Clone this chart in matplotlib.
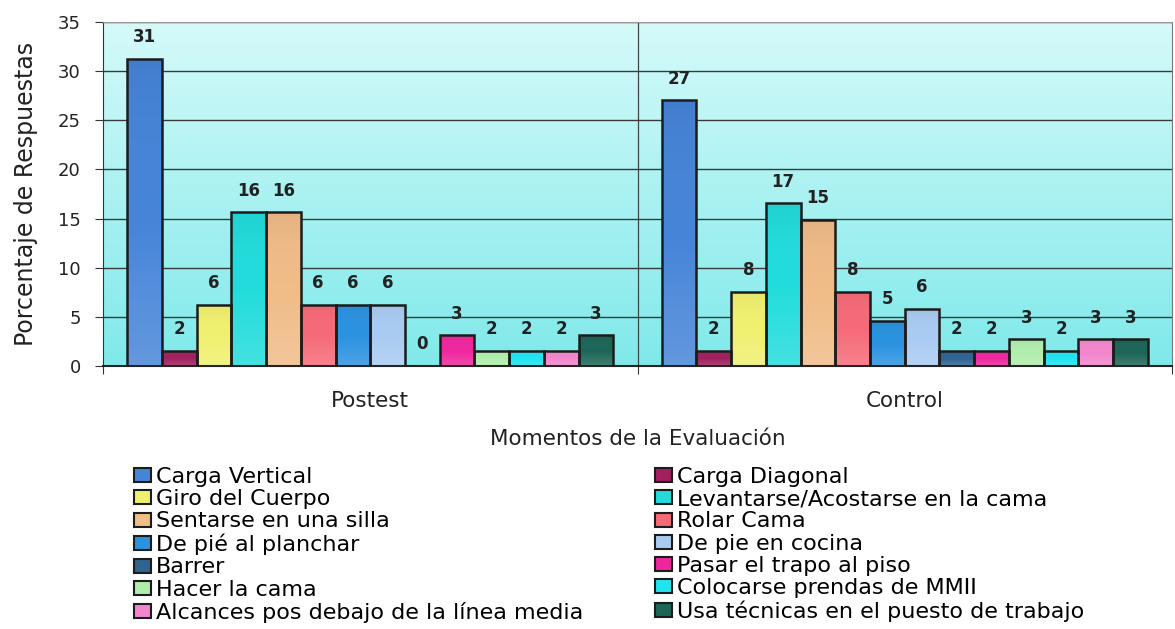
import matplotlib
matplotlib.use("Agg")
import matplotlib.pyplot as plt
import numpy as np
from matplotlib.colors import LinearSegmentedColormap
from matplotlib.patches import Patch

plt.rcParams['font.family'] = ['DejaVu Sans']

#---------------------------------------------------------------------------#
# data: % of answers per activity, for each evaluation moment
#---------------------------------------------------------------------------#

moments = ["Postest", "Control"]

activities = [
    "Carga Vertical",
    "Carga Diagonal",
    "Giro del Cuerpo",
    "Levantarse/Acostarse en la cama",
    "Sentarse en una silla",
    "Rolar Cama",
    "De pié al planchar",
    "De pie en cocina",
    "Barrer",
    "Pasar el trapo al piso",
    "Hacer la cama",
    "Colocarse prendas de MMII",
    "Alcances pos debajo de la línea media",
    "Usa técnicas en el puesto de trabajo",
]

postest = [31.25, 1.56, 6.25, 15.63, 15.63, 6.25, 6.25, 6.25,
           0.0, 3.13, 1.56, 1.56, 1.56, 3.13]

control = [27.03, 1.52, 7.55, 16.55, 14.86, 7.55, 4.6, 5.8,
           1.52, 1.52, 2.7, 1.52, 2.7, 2.7]

colors = ["#4684d8", "#a1215f", "#f0f070", "#22dcdc", "#f0bc88",
          "#f66a78", "#2b92e0", "#a9cbf2", "#2f6491", "#ef279f",
          "#b0eeac", "#20e4f0", "#f286cc", "#1d6657"]

yticks = [0, 5, 10, 15, 20, 25, 30, 35]


#---------------------------------------------------------------------------#

fig = plt.figure(figsize=(11.75, 6.29), dpi=100)
ax = fig.add_axes([103/1175, 1 - 366/629, 1069/1175, 344/629])

# cyan gradient behind the bars
bg = LinearSegmentedColormap.from_list("bg", ["#80e9ea", "#d6fafa"])
ax.imshow(np.linspace(0, 1, 256).reshape(-1, 1), cmap=bg, origin="lower",
          extent=[0, 1, 0, 1], transform=ax.transAxes, aspect="auto",
          zorder=-1)

# slightly lighter at the foot of each bar, a touch darker at the top
shade = LinearSegmentedColormap.from_list(
    "shade", [(1, 1, 1, 0.16), (1, 1, 1, 0.0), (0, 0, 0, 0.05)])
grad = np.linspace(0, 1, 64).reshape(-1, 1)

vals = np.array([postest, control])
n = len(activities)
bar_w = 0.065
centers = np.arange(len(moments))

handles = []
for i in range(n):
    x = centers + (i - (n - 1) / 2) * bar_w
    bars = ax.bar(x, vals[:, i], width=bar_w, color=colors[i],
                  linewidth=0, zorder=2.5)
    for rect in bars:
        if rect.get_height() <= 0:
            continue
        im = ax.imshow(grad, cmap=shade, origin="lower", aspect="auto",
                       extent=[rect.get_x(), rect.get_x() + rect.get_width(),
                               0, rect.get_height()], zorder=2.6)
        im.set_clip_path(rect)
    ax.bar(x, vals[:, i], width=bar_w, fill=False, edgecolor="#1c1c1c",
           linewidth=1.8, zorder=3)
    handles.append(Patch(facecolor=colors[i], edgecolor="#1c1c1c",
                         linewidth=1.5))
    for xi, v in zip(x, vals[:, i]):
        ax.annotate(f"{v:.0f}", (xi, v), xytext=(0, 12),
                    textcoords="offset points", ha="center", va="baseline",
                    fontsize=12, fontweight="bold", color="#222222",
                    zorder=4)

ax.set_xlim(-0.5, len(moments) - 0.5)
ax.set_ylim(0, 35)

ax.set_axisbelow(True)
ax.yaxis.grid(True, color="#3a3a3a", linewidth=1.0)
ax.axvline(0.5, color="#444444", linewidth=0.9, zorder=1)

ax.set_yticks(yticks)
ax.tick_params(axis="y", labelsize=13, pad=10, length=6,
               color="#333333", labelcolor="#222222")

# category boundaries carry the ticks, names sit in between
ax.set_xticks([-0.5, 0.5, 1.5])
ax.set_xticklabels([])
ax.set_xticks(centers, minor=True)
ax.set_xticklabels(moments, minor=True)
ax.tick_params(axis="x", which="major", length=6, color="#333333")
ax.tick_params(axis="x", which="minor", length=0, pad=18, labelsize=15.5,
               labelcolor="#222222")

ax.set_xlabel("Momentos de la Evaluación", fontsize=15.5, color="#222222",
              labelpad=13)
ax.set_ylabel("Porcentaje de Respuestas", fontsize=17, color="#222222")
ax.yaxis.set_label_coords(-0.061, 0.5)

ax.spines["left"].set_color("#333333")
ax.spines["bottom"].set_color("#222222")
ax.spines["bottom"].set_linewidth(1.5)
ax.spines["top"].set_color("#9a9a9a")
ax.spines["right"].set_color("#777777")

# legend in two columns, filled row by row
leg_kw = dict(loc="upper left", frameon=False, fontsize=16,
              handlelength=0.75, handleheight=0.6, handletextpad=0.25,
              labelspacing=0.1, borderpad=0, borderaxespad=0)
left = fig.legend(handles[0::2], activities[0::2],
                  bbox_to_anchor=(134/1175, 1 - 467/629), **leg_kw)
right = fig.legend(handles[1::2], activities[1::2],
                   bbox_to_anchor=(655/1175, 1 - 467/629), **leg_kw)

fig.savefig("out.png", dpi=100)
